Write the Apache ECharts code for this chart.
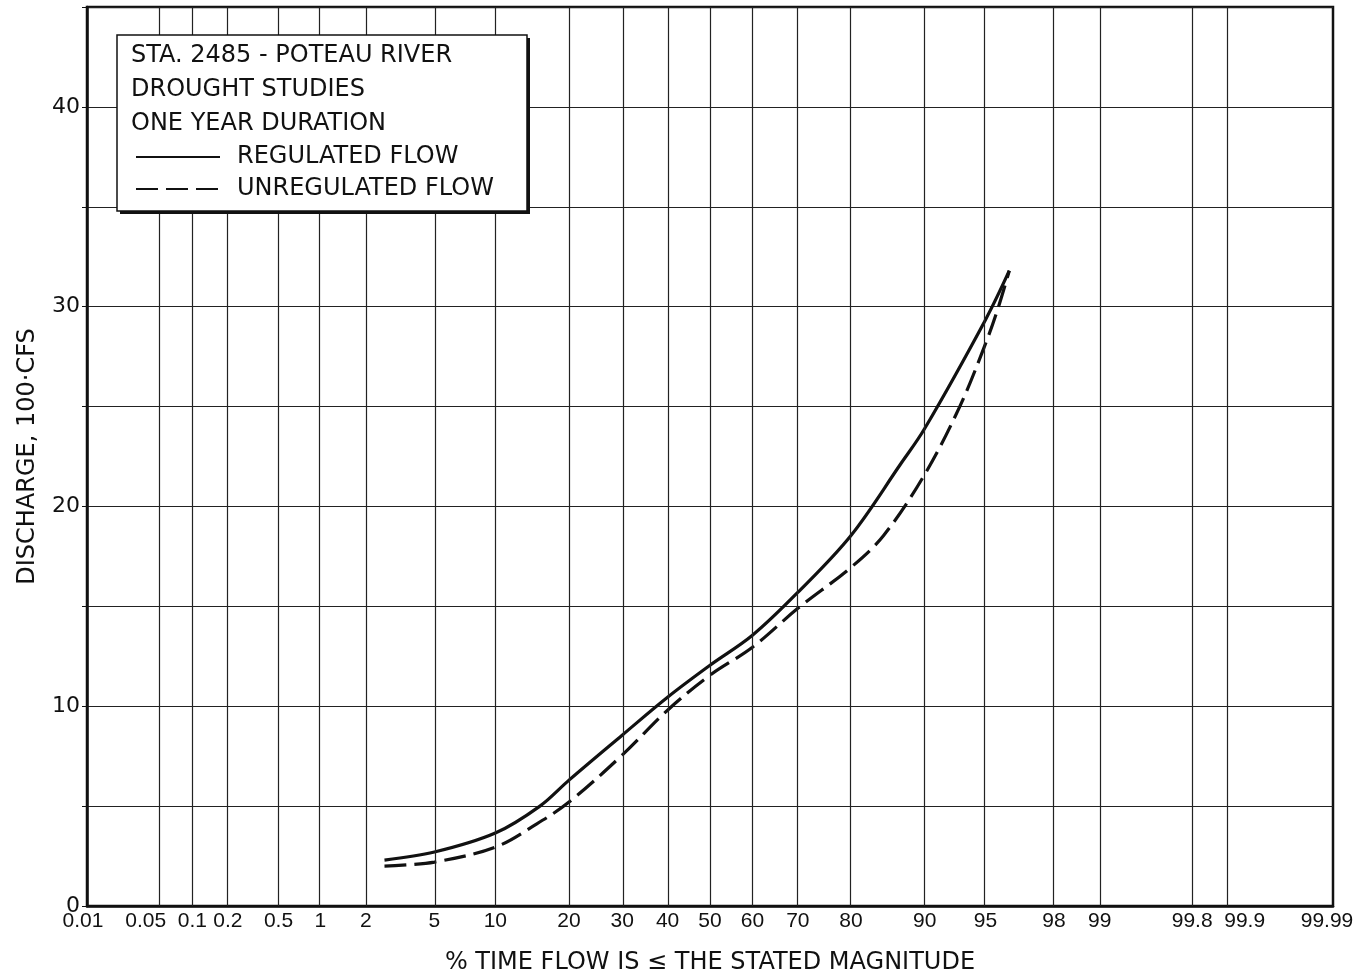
<!DOCTYPE html>
<html>
<head>
<meta charset="utf-8">
<title>Poteau River drought studies</title>
<script src="https://cdn.jsdelivr.net/npm/echarts@6/dist/echarts.min.js"></script>
<style>
  html, body { margin: 0; padding: 0; background: #fff; }
  #chart { width: 1365px; height: 978px; }
</style>
</head>
<body>
<div id="chart"></div>
<script>
// tick labels of the probability axis (percent of time)
var tickPct = [0.01, 0.05, 0.1, 0.2, 0.5, 1, 2, 5, 10, 20, 30, 40, 50, 60, 70, 80, 90, 95, 98, 99, 99.8, 99.9, 99.99];
var tickText = ['0.01', '0.05', '0.1', '0.2', '0.5', '1', '2', '5', '10', '20', '30', '40', '50', '60', '70', '80', '90', '95', '98', '99', '99.8', '99.9', '99.99'];

// regulated flow (solid), discharge in 100 cfs
var regPct = [2.6, 5, 10, 15.5, 20, 30, 40, 50, 60, 70, 80, 87.2, 90, 95, 96.3];
var regVal = [2.3, 2.7, 3.65, 5.0, 6.3, 8.55, 10.45, 12.05, 13.55, 15.7, 18.55, 22.1, 23.9, 29.35, 31.8];

// unregulated flow (dashed)
var unregPct = [2.6, 5, 10, 15, 20, 30, 40, 50, 60, 70, 80, 85, 90, 93.2, 95, 95.75, 96.3];
var unregVal = [2.0, 2.2, 2.95, 4.1, 5.2, 7.55, 9.8, 11.55, 12.95, 14.9, 16.95, 18.55, 21.6, 25, 28.15, 30, 31.8];

// crowded labels are nudged sideways, like on the printed paper (rich style names)
var labelNudge = { '0.01': 'l4', '0.05': 'l13', '99.9': 'r17', '99.99': 'l6' };

// inverse normal cdf (Acklam) -> position on probability paper
function normInv(p) {
    var a = [-3.969683028665376e+01, 2.209460984245205e+02, -2.759285104469687e+02, 1.383577518672690e+02, -3.066479806614716e+01, 2.506628277459239e+00];
    var b = [-5.447609879822406e+01, 1.615858368580409e+02, -1.556989798598866e+02, 6.680131188771972e+01, -1.328068155288572e+01];
    var c = [-7.784894002430293e-03, -3.223964580411365e-01, -2.400758277161838e+00, -2.549732539343734e+00, 4.374664141464968e+00, 2.938163982698783e+00];
    var d = [7.784695709041462e-03, 3.224671290700398e-01, 2.445134137142996e+00, 3.754408661907416e+00];
    var q, r;
    if (p < 0.02425) {
        q = Math.sqrt(-2 * Math.log(p));
        return (((((c[0]*q+c[1])*q+c[2])*q+c[3])*q+c[4])*q+c[5]) / ((((d[0]*q+d[1])*q+d[2])*q+d[3])*q+1);
    } else if (p > 1 - 0.02425) {
        q = Math.sqrt(-2 * Math.log(1 - p));
        return -(((((c[0]*q+c[1])*q+c[2])*q+c[3])*q+c[4])*q+c[5]) / ((((d[0]*q+d[1])*q+d[2])*q+d[3])*q+1);
    }
    q = p - 0.5;
    r = q * q;
    return (((((a[0]*r+a[1])*r+a[2])*r+a[3])*r+a[4])*r+a[5])*q / (((((b[0]*r+b[1])*r+b[2])*r+b[3])*r+b[4])*r+1);
}
function z(pct) { return normInv(pct / 100); }

var tickZ = tickPct.map(z);

function toPairs(pcts, vals) {
    var out = [];
    for (var i = 0; i < pcts.length; i++) {
        out.push([z(pcts[i]), vals[i]]);
    }
    return out;
}

var font = 'DejaVu Sans';
var tickFont = { fontFamily: 'Liberation Sans', fontSize: 21, color: '#111' };
function nudge(left, right) {
    return Object.assign({ padding: [0, right, 0, left] }, tickFont);
}

var myChart = echarts.init(document.getElementById('chart'));

var option = {
    backgroundColor: '#fff',
    animation: false,
    title: {
        text: 'STA. 2485 - POTEAU RIVER\nDROUGHT STUDIES\nONE YEAR DURATION',
        left: 131,
        top: 39,
        padding: 0,
        z: 60,
        textStyle: {
            fontFamily: font,
            fontSize: 24,
            fontWeight: 'normal',
            color: '#111',
            lineHeight: 34
        }
    },
    legend: {
        data: ['REGULATED FLOW', 'UNREGULATED FLOW'],
        orient: 'vertical',
        left: 135,
        top: 145,
        padding: 0,
        itemWidth: 84,
        itemHeight: 14,
        itemGap: 8,
        z: 60,
        itemStyle: { opacity: 0 },
        textStyle: {
            fontFamily: font,
            fontSize: 24,
            color: '#111',
            padding: [0, 0, 0, 12]
        }
    },
    graphic: [{
        // drop shadow of the key box
        type: 'rect',
        z: 49,
        shape: { x: 120, y: 38, width: 410, height: 176 },
        style: { fill: '#111' }
    }, {
        type: 'rect',
        z: 50,
        shape: { x: 117, y: 35, width: 410, height: 176 },
        style: { fill: '#fff', stroke: '#111', lineWidth: 1.5 }
    }],
    grid: {
        left: 87,
        right: 32,
        top: 7,
        bottom: 72,
        outerBoundsMode: 'none',
        show: true,
        borderColor: '#111',
        borderWidth: 2.5,
        backgroundColor: '#fff'
    },
    xAxis: {
        type: 'value',
        min: z(0.01),
        max: z(99.99),
        name: '% TIME FLOW IS \u2264 THE STATED MAGNITUDE',
        nameLocation: 'middle',
        nameGap: 45,
        nameTextStyle: { fontFamily: font, fontSize: 24, color: '#111' },
        axisLine: { onZero: false, lineStyle: { color: '#111', width: 2.5 } },
        axisTick: { show: false, customValues: tickZ },
        axisLabel: {
            customValues: tickZ,
            fontFamily: tickFont.fontFamily,
            fontSize: tickFont.fontSize,
            color: tickFont.color,
            margin: 5,
            rich: {
                l4: nudge(0, 8),
                l6: nudge(0, 12),
                l13: nudge(0, 26),
                r17: nudge(34, 0)
            },
            formatter: function (v) {
                for (var i = 0; i < tickZ.length; i++) {
                    if (Math.abs(tickZ[i] - v) < 1e-6) {
                        var t = tickText[i];
                        return labelNudge[t] ? '{' + labelNudge[t] + '|' + t + '}' : t;
                    }
                }
                return '';
            }
        },
        splitLine: { show: false }
    },
    yAxis: {
        type: 'value',
        min: 0,
        max: 45,
        interval: 5,
        name: 'DISCHARGE, 100\u00B7CFS',
        nameLocation: 'middle',
        nameGap: 47,
        nameTextStyle: { fontFamily: font, fontSize: 24, color: '#111' },
        axisLine: { onZero: false, lineStyle: { color: '#111', width: 2.5 } },
        axisTick: { show: true, length: 5, lineStyle: { color: '#111' } },
        axisLabel: {
            fontFamily: font,
            fontSize: 22,
            color: '#111',
            margin: 7,
            formatter: function (v) {
                return (v % 10 === 0 && v < 45) ? String(v) : '';
            }
        },
        splitLine: { show: true, lineStyle: { color: '#222', width: 1.2 } }
    },
    series: [{
        name: 'REGULATED FLOW',
        type: 'line',
        data: toPairs(regPct, regVal),
        smooth: 0.35,
        symbol: 'none',
        lineStyle: { color: '#111', width: 3.2 },
        itemStyle: { color: '#111' },
        markLine: {
            silent: true,
            symbol: 'none',
            label: { show: false },
            lineStyle: { color: '#222', width: 1.2, type: 'solid' },
            data: tickZ.slice(1, tickZ.length - 1).map(function (v) { return { xAxis: v }; })
        },
        z: 3
    }, {
        name: 'UNREGULATED FLOW',
        type: 'line',
        data: toPairs(unregPct, unregVal),
        smooth: 0.35,
        symbol: 'none',
        lineStyle: { color: '#111', width: 3.2, type: [22, 8] },
        itemStyle: { color: '#111' },
        z: 3
    }]
};

myChart.setOption(option);
</script>
</body>
</html>
